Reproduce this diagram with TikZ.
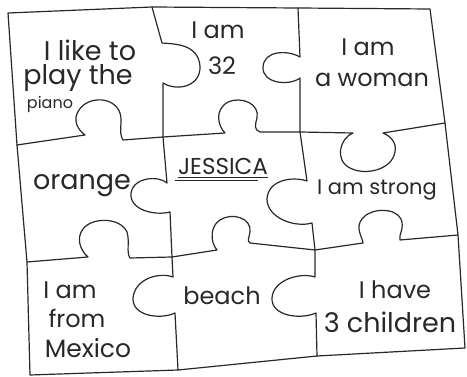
\documentclass[tikz,border=0pt]{standalone}
\usepackage{fontspec}
\setmainfont{Poppins}
\usepackage{tikz}
\usetikzlibrary{positioning}
\definecolor{ink}{RGB}{40,40,40}

\begin{document}
\begin{tikzpicture}[x=1pt, y=-1pt,
    cutline/.style={draw=ink, line width=1.2pt, line join=round, line cap=round},
    word/.style={text=ink, inner sep=0pt, font=\fontsize{24}{28}\selectfont}]
  \useasboundingbox (0,0) rectangle (467,377);

  % frame
  \draw[cutline] (8,13) -- (152,7) -- (298,8) -- (430,9) -- (445,123) -- (458,235)
    -- (465,348) -- (317,356) -- (178,370) -- (30,375) -- (27,262) -- (17,145) -- cycle;

  % columns
  \draw[cutline] (152,7) -- (162,43) .. controls (175,44) and (198,44) .. (200,66)
    .. controls (201,86) and (178,92) .. (163,83) -- (163,137) -- (167,183)
    .. controls (160,176) and (134,176) .. (131,193)
    .. controls (129,210) and (155,216) .. (170,212) -- (172,257) -- (173,277)
    .. controls (160,272) and (135,278) .. (133,298)
    .. controls (132,316) and (160,320) .. (175,313) -- (178,370);
  \draw[cutline] (298,8) -- (300,57) .. controls (288,50) and (264,50) .. (263,67)
    .. controls (262,84) and (290,86) .. (300,78) -- (300,132) -- (307,181)
    .. controls (292,176) and (268,180) .. (267,199)
    .. controls (267,218) and (295,228) .. (312,223) -- (315,250) -- (315,277)
    .. controls (300,272) and (273,280) .. (272,298)
    .. controls (271,316) and (300,320) .. (316,313) -- (317,356);

  % rows
  \draw[cutline] (17,145) -- (85,135) .. controls (78,130) and (72,120) .. (79,110)
    .. controls (88,96) and (114,96) .. (120,113)
    .. controls (123,122) and (118,132) .. (123,140) -- (163,137) -- (225,133)
    .. controls (218,126) and (214,110) .. (228,102)
    .. controls (242,96) and (260,104) .. (257,118)
    .. controls (255,125) and (254,130) .. (260,132) -- (300,132) -- (353,133)
    .. controls (340,138) and (334,160) .. (350,168)
    .. controls (365,176) and (392,170) .. (395,152)
    .. controls (397,142) and (390,136) .. (383,133) -- (445,123);
  \draw[cutline] (27,262) -- (88,257) .. controls (80,250) and (76,238) .. (83,229)
    .. controls (92,217) and (120,217) .. (127,232)
    .. controls (130,242) and (126,252) .. (130,258) -- (172,257) -- (217,250)
    .. controls (210,242) and (210,226) .. (220,220)
    .. controls (232,212) and (252,218) .. (250,232)
    .. controls (249,238) and (247,241) .. (250,243) -- (315,250) -- (363,243)
    .. controls (362,236) and (355,228) .. (362,219)
    .. controls (370,208) and (395,207) .. (401,219)
    .. controls (405,228) and (398,236) .. (400,240) -- (458,235);

  % words
  \node[word, font=\fontsize{27}{30}\selectfont] (likea) at (90,50) {I like to};
  \node[word, font=\fontsize{27}{30}\selectfont] (likeb) at (78,78) {play the};
  \node[word, font=\fontsize{16}{18}\selectfont] (piano) at (50,104) {piano};
  \node[word] (am32a) at (218,30) {I am};
  \node[word] (am32b) at (222,66) {32};
  \node[word] (womana) at (368,47) {I am};
  \node[word] (womanb) at (372,80) {a woman};
  \node[word, font=\fontsize{23}{26}\selectfont] (jessica) at (223,166) {JESSICA};
  \draw[ink, line width=1.1pt] ([yshift=-3pt]jessica.south west) -- ([yshift=-3pt]jessica.south east);
  \draw[ink, line width=0.8pt] ([yshift=-6pt,xshift=-3pt]jessica.south west) -- ([yshift=-6pt,xshift=-10pt]jessica.south east);
  \node[word, font=\fontsize{27}{30}\selectfont] (orange) at (82,186) {orange};
  \node[word, font=\fontsize{21}{24}\selectfont] (strong) at (377,190) {I am strong};
  \node[word] (mexa) at (70,290) {I am};
  \node[word] (mexb) at (77,318) {from};
  \node[word, font=\fontsize{25}{28}\selectfont] (mexc) at (88,348) {Mexico};
  \node[word] (beach) at (222,296) {beach};
  \node[word] (havea) at (395,290) {I have};
  \node[word, font=\fontsize{27}{30}\selectfont] (haveb) at (390,322) {3 children};
\end{tikzpicture}
\end{document}
